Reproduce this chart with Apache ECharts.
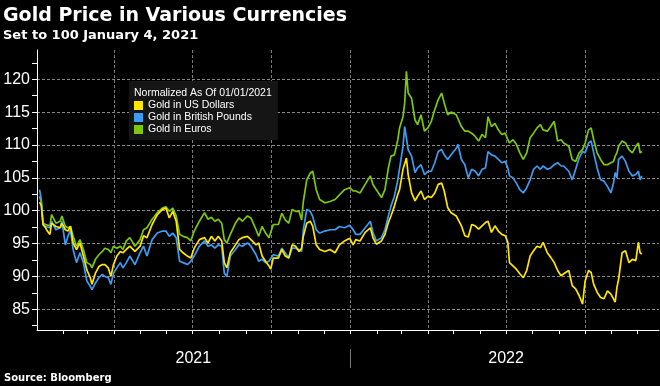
<!DOCTYPE html>
<html><head><meta charset="utf-8">
<script src="https://cdn.jsdelivr.net/npm/echarts@6/dist/echarts.min.js"></script>
<style>html,body{margin:0;padding:0;background:#000}#c{width:660px;height:386px}</style>
</head><body><div id="c"></div>
<script>
const dates = ['2021-01-04','2021-01-06','2021-01-08','2021-01-11','2021-01-13','2021-01-16','2021-01-18','2021-01-23','2021-01-28','2021-01-30',
'2021-02-03','2021-02-06','2021-02-09','2021-02-12','2021-02-16','2021-02-20','2021-02-24','2021-02-28','2021-03-04','2021-03-06',
'2021-03-10','2021-03-14','2021-03-18','2021-03-21','2021-03-25','2021-03-28','2021-03-31','2021-04-04','2021-04-08','2021-04-11',
'2021-04-15','2021-04-19','2021-04-25','2021-05-01','2021-05-05','2021-05-09','2021-05-15','2021-05-21','2021-05-27','2021-05-31',
'2021-06-04','2021-06-08','2021-06-12','2021-06-16','2021-06-20','2021-06-25','2021-06-29','2021-07-03','2021-07-09','2021-07-15',
'2021-07-19','2021-07-23','2021-07-27','2021-07-31','2021-08-04','2021-08-07','2021-08-10','2021-08-14','2021-08-20','2021-08-24',
'2021-08-28','2021-09-03','2021-09-07','2021-09-13','2021-09-16','2021-09-20','2021-09-24','2021-09-28','2021-09-30','2021-10-03',
'2021-10-09','2021-10-13','2021-10-17','2021-10-21','2021-10-25','2021-10-29','2021-11-02','2021-11-05','2021-11-07','2021-11-11',
'2021-11-15','2021-11-18','2021-11-22','2021-11-26','2021-12-02','2021-12-08','2021-12-14','2021-12-19','2021-12-25','2021-12-31',
'2022-01-04','2022-01-07','2022-01-12','2022-01-18','2022-01-24','2022-01-27','2022-01-31','2022-02-06','2022-02-10','2022-02-14',
'2022-02-17','2022-02-21','2022-02-25','2022-02-27','2022-03-03','2022-03-05','2022-03-07','2022-03-09','2022-03-13','2022-03-17',
'2022-03-20','2022-03-24','2022-03-28','2022-04-01','2022-04-05','2022-04-09','2022-04-13','2022-04-17','2022-04-20','2022-04-24',
'2022-04-28','2022-05-04','2022-05-06','2022-05-10','2022-05-14','2022-05-18','2022-05-22','2022-05-26','2022-05-30','2022-06-03',
'2022-06-07','2022-06-10','2022-06-14','2022-06-18','2022-06-22','2022-06-26','2022-06-30','2022-07-03','2022-07-05','2022-07-09',
'2022-07-13','2022-07-17','2022-07-21','2022-07-25','2022-07-29','2022-08-02','2022-08-06','2022-08-10','2022-08-13','2022-08-18',
'2022-08-22','2022-08-26','2022-08-30','2022-09-03','2022-09-06','2022-09-12','2022-09-16','2022-09-20','2022-09-24','2022-09-28',
'2022-10-01','2022-10-05','2022-10-08','2022-10-11','2022-10-15','2022-10-19','2022-10-23','2022-10-27','2022-10-31','2022-11-03',
'2022-11-05','2022-11-07','2022-11-09','2022-11-13','2022-11-17','2022-11-21','2022-11-25','2022-11-29','2022-12-02','2022-12-04',
'2022-12-06'];

const usd = [101.3,100.8,97.9,97.4,96.9,96.4,98.1,97.6,97.4,98.1,
97.1,96.9,97.6,95.1,94.1,95.1,93.1,91.0,89.8,88.8,
90.5,91.5,91.8,91.8,91.3,90.0,91.8,93.1,93.8,93.6,
94.1,94.6,93.8,94.6,96.2,95.9,97.9,99.4,100.2,100.4,
98.9,99.9,98.4,94.1,93.6,93.1,92.8,94.3,95.6,95.9,
95.1,96.1,95.4,96.1,95.4,92.1,91.3,93.6,94.8,95.6,
95.9,96.1,95.6,94.8,95.1,93.1,92.3,91.6,91.1,92.8,
92.8,94.1,93.1,92.8,94.8,94.6,93.8,94.3,96.1,98.1,
98.4,97.6,94.8,94.1,93.8,94.1,93.6,94.8,95.4,95.8,
94.8,95.6,95.4,96.7,97.4,95.9,94.9,95.4,96.4,98.2,
99.2,100.7,102.5,103.2,106.3,106.3,108.0,105.5,102.7,101.5,
102.2,103.0,101.7,102.2,102.0,102.7,104.0,104.2,103.0,100.5,
99.7,99.2,99.0,97.7,96.2,96.0,97.9,97.7,97.2,97.7,
98.2,98.4,96.7,97.7,96.9,96.4,96.2,95.2,92.1,91.6,
91.1,90.4,89.8,90.9,93.1,93.9,94.6,94.4,95.2,93.6,
92.9,92.1,90.9,90.1,90.4,90.9,88.6,88.1,87.1,85.8,
89.3,90.9,90.6,88.8,87.6,86.8,86.6,87.8,87.3,86.6,
86.1,88.3,89.6,93.6,93.9,92.1,92.6,92.4,95.2,93.6,
93.4];

const gbp = [103.2,101.7,97.9,97.6,97.6,97.4,98.4,97.1,97.4,98.4,
94.8,96.1,97.1,94.1,92.1,93.6,92.1,89.3,88.5,88.0,
89.0,89.8,90.3,90.0,89.8,88.8,90.5,91.3,92.1,91.3,
92.1,93.1,91.8,93.6,94.6,93.1,95.6,96.6,96.9,96.9,
96.1,96.6,95.9,92.3,92.1,91.8,92.3,93.1,94.6,95.4,
94.6,94.8,94.3,94.8,94.6,90.5,90.0,93.1,94.1,94.8,
94.6,95.1,94.6,93.3,92.3,92.6,92.1,92.3,92.1,93.3,
93.1,94.3,93.6,92.8,94.3,94.3,94.1,93.8,97.1,100.2,
99.9,99.1,97.1,96.6,96.9,97.1,97.1,97.6,97.4,97.8,
97.1,96.4,96.4,97.4,98.4,96.7,95.4,95.9,97.1,99.2,
100.7,102.2,104.7,105.0,109.8,112.8,112.6,109.3,108.3,105.8,
106.5,107.0,105.5,106.0,106.0,107.3,109.0,109.3,108.5,107.8,
108.5,109.5,110.1,107.8,107.0,105.0,106.3,106.0,105.3,106.3,
106.5,109.0,108.5,108.3,107.8,107.3,107.5,106.5,105.3,105.0,
104.2,103.2,102.7,103.5,104.7,106.3,106.8,106.3,106.8,106.3,
106.5,107.0,107.3,106.8,106.8,106.0,104.7,106.3,108.0,109.0,
108.8,110.3,110.6,108.8,106.5,104.7,104.5,103.7,102.7,104.2,
105.8,105.0,107.8,108.3,107.5,106.0,105.3,105.5,106.0,104.7,
105.3];

const eur = [102.2,101.3,98.1,97.9,97.9,97.7,99.4,98.1,98.4,99.2,
97.6,97.4,97.6,96.1,94.6,95.6,94.1,92.1,91.8,91.3,
92.6,93.3,93.8,94.3,94.1,93.6,94.6,94.3,94.6,94.1,
95.4,95.9,94.6,95.6,97.1,97.4,98.7,99.7,100.4,100.6,
99.9,100.4,99.2,96.4,96.1,95.9,95.4,96.9,98.4,99.7,
98.7,99.0,98.4,98.7,98.1,95.6,95.1,96.4,98.1,98.9,
98.4,99.2,98.9,97.1,96.1,97.6,96.6,95.9,95.6,97.9,
97.9,99.6,98.6,98.1,100.2,99.9,99.9,98.6,101.4,104.7,
105.7,106.0,103.2,101.7,101.2,101.4,101.7,102.4,103.2,103.5,
103.0,103.0,102.7,104.0,105.3,104.0,103.2,102.0,103.2,106.5,
108.3,108.5,110.8,112.6,114.3,116.4,121.2,117.9,117.1,113.8,
113.1,114.6,112.1,112.6,113.6,115.4,116.9,117.9,116.4,114.6,
115.0,114.6,114.8,112.8,112.1,112.1,111.8,111.3,110.6,111.6,
111.1,114.3,112.8,113.3,112.3,111.6,111.8,110.8,110.3,110.8,
110.1,108.8,107.8,108.8,111.1,111.8,112.6,113.1,112.3,112.1,
112.8,113.6,110.6,110.8,110.3,109.8,107.8,107.5,108.8,109.3,
110.3,112.3,112.6,110.8,108.8,107.8,107.0,107.0,107.3,107.5,
108.3,108.8,109.8,110.6,110.3,109.3,108.8,109.8,110.3,108.8,
109.0];

const seriesNames = ['Gold in US Dollars','Gold in British Pounds','Gold in Euros'];
const seriesColors = ['#ffe600','#3d9df2','#7cc80a'];
const yTickValues = [82.5,85,87.5,90,92.5,95,97.5,100,102.5,105,107.5,110,112.5,115,117.5,120,122.5];
const yLabelValues = [85,90,95,100,105,110,115,120];
const quarterLines = ['2021-04-01','2021-07-01','2021-10-01','2022-01-01','2022-04-01','2022-07-01','2022-10-01'];
const yearLabelDates = ['2021-07-02','2022-07-01'];
const yearSeparators = ['2022-01-01'];
const monthTicks = [];
for (let y = 2021; y <= 2022; y++) for (let m = 1; m <= 12; m++) {
  if (y === 2021 && m === 1) continue;
  monthTicks.push(y + '-' + String(m).padStart(2,'0') + '-01');
}
const xMin = '2021-01-01', xMax = '2022-12-26';
const yMin = 81.85, yMax = 124.45;

const ts = (d) => Date.parse(d + 'T00:00:00Z');
function pairs(vals){ return dates.map((d,i)=>[ts(d), vals[i]]); }

const chart = echarts.init(document.getElementById('c'), null, {renderer:'canvas'});
chart.setOption({
  backgroundColor: '#000',
  animation: false,
  title: [
    {text:'Gold Price in Various Currencies', left:3, top:7, padding:0,
     textStyle:{color:'#fff', fontSize:19, fontWeight:'bold', fontFamily:'DejaVu Sans'}},
    {text:'Set to 100 January 4, 2021', left:3, top:29, padding:0,
     textStyle:{color:'#fff', fontSize:13, fontWeight:'bold', fontFamily:'DejaVu Sans'}},
    {text:'Source: Bloomberg', left:4, top:373, padding:0,
     textStyle:{color:'#fff', fontSize:10, fontWeight:'bold', fontFamily:'DejaVu Sans'}},
    {text:'Normalized As Of 01/01/2021', left:134, top:88, padding:0, z:10, zlevel:1,
     textStyle:{color:'#fff', fontSize:10.5, fontWeight:'normal', fontFamily:'Liberation Sans'}}
  ],
  legend: {
    orient:'vertical', left:129, top:81, padding:[19,26,5,5],
    backgroundColor:'#151515',
    data: seriesNames, icon:'rect', itemWidth:9, itemHeight:9, itemGap:1,
    textStyle:{color:'#fff', fontSize:10.5, fontFamily:'Liberation Sans'},
    selectedMode:false
  },
  grid: {left:37, right:1, top:50, bottom:56, containLabel:false},
  xAxis: [
    {type:'value', min:ts(xMin), max:ts(xMax), position:'bottom',
     axisLine:{show:true, lineStyle:{color:'#fff', width:1}},
     axisTick:{show:true, customValues:monthTicks.map(ts), length:4, lineStyle:{color:'#fff'}},
     axisLabel:{show:false}, splitLine:{show:false}},
    {type:'value', min:ts(xMin), max:ts(xMax), position:'bottom', offset:19,
     axisLine:{show:false},
     axisTick:{show:true, customValues:yearSeparators.map(ts), length:19, lineStyle:{color:'#777'}},
     axisLabel:{show:true, customValues:yearLabelDates.map(ts), margin:2, color:'#fff', fontSize:16,
       fontFamily:'Liberation Sans', formatter:(v)=>String(new Date(v).getUTCFullYear())},
     splitLine:{show:false}},
    {type:'value', min:ts(xMin), max:ts(xMax), position:'top',
     axisLine:{show:false}, axisTick:{show:false, customValues:quarterLines.map(ts)}, axisLabel:{show:false},
     splitLine:{show:true, lineStyle:{color:'#7a7a7a', width:1, type:[3,2]}}}
  ],
  yAxis: [
    {type:'value', min:yMin, max:yMax, position:'left',
     axisLine:{show:true, lineStyle:{color:'#fff', width:1}},
     axisTick:{show:true, customValues:yTickValues, length:5, lineStyle:{color:'#fff'}},
     axisLabel:{show:true, customValues:yLabelValues, margin:7, color:'#fff', fontSize:16,
       fontFamily:'Liberation Sans'},
     splitLine:{show:false}},
    {type:'value', min:yMin, max:yMax, position:'left',
     axisLine:{show:false}, axisTick:{show:false, customValues:yLabelValues}, axisLabel:{show:false},
     splitLine:{show:true, lineStyle:{color:'#8a8a8a', width:1, type:[3,2]}}}
  ],
  series: [
    {name:seriesNames[2], type:'line', data:pairs(eur), showSymbol:false, color:seriesColors[2],
     lineStyle:{width:1.7, color:seriesColors[2]}},
    {name:seriesNames[1], type:'line', data:pairs(gbp), showSymbol:false, color:seriesColors[1],
     lineStyle:{width:1.7, color:seriesColors[1]}},
    {name:seriesNames[0], type:'line', data:pairs(usd), showSymbol:false, color:seriesColors[0],
     lineStyle:{width:1.7, color:seriesColors[0]}}
  ]
});
</script></body></html>
